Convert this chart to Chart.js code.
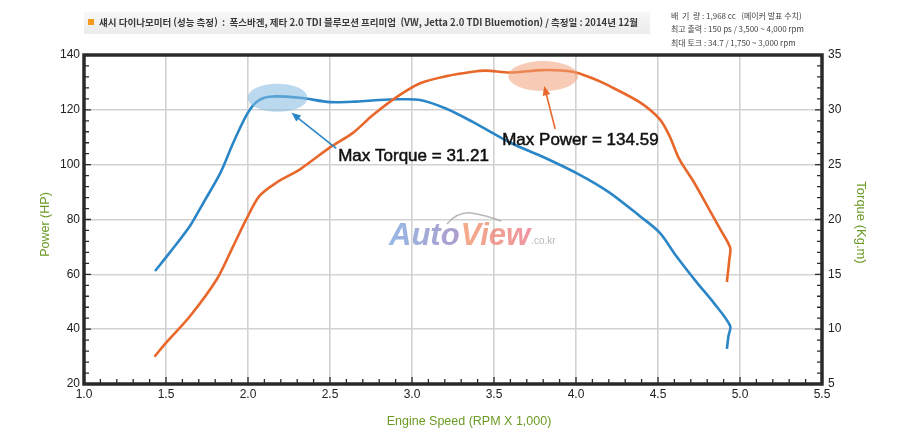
<!DOCTYPE html>
<html lang="ko">
<head>
<meta charset="UTF-8">
<title>Jetta 2.0 TDI Bluemotion - Dyno</title>
<script src="https://cdn.jsdelivr.net/npm/chart.js"></script>
<style>
    html, body { margin: 0; padding: 0; background: #fff; }
    #wrap { width: 900px; height: 436px; position: relative; }
</style>
</head>
<body>
<div id="wrap"><canvas id="dyno" width="900" height="436"></canvas></div>
<script>
// 출력 곡선 (Power, HP) - 왼쪽 축
const powerRpm = [1.43, 1.5, 1.646, 1.81, 1.91, 1.99, 2.07, 2.175, 2.317, 2.5, 2.64, 2.76, 2.91, 3.05, 3.21, 3.37, 3.45, 3.6, 3.8, 3.98, 4.1, 4.2, 4.39, 4.51, 4.57, 4.63, 4.72, 4.8, 4.88, 4.94, 4.935, 4.92];
const powerHp  = [30, 35, 44.7, 58.2, 70.3, 80.1, 88.6, 93.5, 98.3, 106.3, 111.6, 118, 124.8, 129.7, 132.3, 133.9, 134.3, 133.6, 134.5, 133.9, 131.5, 128.8, 122.7, 116.6, 110.5, 102, 93.5, 85, 76.4, 69.7, 65.5, 57.2];

// 토크 곡선 (Torque, Kg.m) - 오른쪽 축
const torqueRpm = [1.433, 1.524, 1.646, 1.727, 1.83, 1.91, 1.99, 2.05, 2.13, 2.317, 2.5, 2.66, 2.8, 2.91, 3.05, 3.21, 3.37, 3.6, 3.8, 4.02, 4.2, 4.39, 4.51, 4.61, 4.74, 4.84, 4.94, 4.93, 4.92];
const torqueKgm = [15.3, 17.0, 19.4, 21.5, 24.2, 27.0, 29.5, 30.7, 31.2, 31.1, 30.7, 30.75, 30.9, 30.96, 30.9, 30.1, 28.9, 27.0, 25.7, 24.1, 22.5, 20.3, 18.8, 16.7, 14.2, 12.4, 10.3, 9.4, 8.2];

// 축 범위
const rpmRange = [1.0, 5.5];
const hpRange = [20, 140];
const kgmRange = [5, 35];

// 텍스트
const titleText = '섀시 다이나모미터 (성능 측정)  :  폭스바겐, 제타 2.0 TDI 블루모션 프리미엄  (VW, Jetta 2.0 TDI Bluemotion) / 측정일 : 2014년 12월';
const specLines = ['배  기  량 : 1,968 cc   (메이커 발표 수치)', '최고 출력 : 150 ps / 3,500 ~ 4,000 rpm', '최대 토크 : 34.7 / 1,750 ~ 3,000 rpm'];

// 최대값 표시 (rpm, 값)
const maxTorque = { rpm: 2.18, value: 31.1, label: 'Max Torque = 31.21', textRpm: 2.55, textHp: 103 };
const maxPower = { rpm: 3.8, value: 132.3, label: 'Max Power = 134.59', textRpm: 3.55, textHp: 109 };

const BLUE = '#2a86c6';
const ORANGE = '#e8672a';
const GREEN = '#6c9a26';
const FONT = '"Liberation Sans", Arial, sans-serif';

function toPoints(xs, ys) {
    return xs.map((x, i) => ({ x: x, y: ys[i] }));
}

function arrow(ctx, x1, y1, x2, y2, color) {
    const a = Math.atan2(y2 - y1, x2 - x1);
    ctx.strokeStyle = color;
    ctx.fillStyle = color;
    ctx.lineWidth = 1.6;
    ctx.beginPath();
    ctx.moveTo(x1, y1);
    ctx.lineTo(x2 - 6 * Math.cos(a), y2 - 6 * Math.sin(a));
    ctx.stroke();
    ctx.beginPath();
    ctx.moveTo(x2, y2);
    ctx.lineTo(x2 - 10 * Math.cos(a - 0.4), y2 - 10 * Math.sin(a - 0.4));
    ctx.lineTo(x2 - 10 * Math.cos(a + 0.4), y2 - 10 * Math.sin(a + 0.4));
    ctx.closePath();
    ctx.fill();
}

const decorPlugin = {
    id: 'decor',
    beforeDraw(chart) {
        const ctx = chart.ctx;
        ctx.save();
        ctx.fillStyle = '#fff';
        ctx.fillRect(0, 0, chart.width, chart.height);

        // 제목 바
        const g = ctx.createLinearGradient(0, 12, 0, 34);
        g.addColorStop(0, '#f7f7f7');
        g.addColorStop(1, '#ececec');
        ctx.fillStyle = g;
        ctx.fillRect(84, 12, 566, 22);
        ctx.fillStyle = '#f39a1e';
        ctx.fillRect(88, 19, 6, 6);
        let size = 10;
        ctx.font = 'bold ' + size + 'px "Noto Sans CJK KR"';
        const w = ctx.measureText(titleText).width;
        size = size * 540 / w;
        ctx.font = 'bold ' + size.toFixed(2) + 'px "Noto Sans CJK KR"';
        ctx.fillStyle = '#3a3a3a';
        ctx.textBaseline = 'middle';
        ctx.fillText(titleText, 99, 22.5);

        // 제원
        ctx.font = '8px "Noto Sans CJK KR"';
        ctx.fillStyle = '#444';
        specLines.forEach((s, i) => ctx.fillText(s, 671, 15.5 + i * 13.5));
        ctx.restore();
    },
    beforeDatasetsDraw(chart) {
        // 워터마크
        const ctx = chart.ctx;
        const x = chart.scales.x, y = chart.scales.y;
        const cx = x.getPixelForValue(2.86), cy = y.getPixelForValue(74);
        ctx.save();
        ctx.globalAlpha = 0.7;
        ctx.strokeStyle = '#9a9a9a';
        ctx.lineWidth = 1.5;
        ctx.beginPath();
        ctx.moveTo(cx + 58, cy - 12);
        ctx.quadraticCurveTo(cx + 68, cy - 24, cx + 82, cy - 23);
        ctx.quadraticCurveTo(cx + 96, cy - 21, cx + 112, cy - 15);
        ctx.stroke();
        ctx.font = 'italic bold 31px "Liberation Sans"';
        ctx.textBaseline = 'alphabetic';
        const ga = ctx.createLinearGradient(cx, 0, cx + 72, 0);
        ga.addColorStop(0, '#6b9bd8');
        ga.addColorStop(1, '#8a72b8');
        ctx.fillStyle = ga;
        ctx.fillText('Auto', cx, cy + 9);
        const aw = ctx.measureText('Auto').width;
        const gv = ctx.createLinearGradient(cx + aw, 0, cx + aw + 80, 0);
        gv.addColorStop(0, '#ee8a55');
        gv.addColorStop(1, '#e8607a');
        ctx.fillStyle = gv;
        ctx.fillText('View', cx + aw + 1, cy + 9);
        const vw = ctx.measureText('View').width;
        ctx.font = '10px "Liberation Sans"';
        ctx.fillStyle = '#999';
        ctx.fillText('.co.kr', cx + aw + vw + 2, cy + 8);
        ctx.restore();
    },
    afterDraw(chart) {
        const ctx = chart.ctx;
        const a = chart.chartArea;
        const x = chart.scales.x, y = chart.scales.y, y1 = chart.scales.y1;
        ctx.save();

        // 최대값 영역
        const tx = x.getPixelForValue(maxTorque.rpm), ty = y1.getPixelForValue(maxTorque.value);
        ctx.fillStyle = 'rgba(130,185,225,0.55)';
        ctx.beginPath();
        ctx.ellipse(tx, ty, 30, 14, 0, 0, Math.PI * 2);
        ctx.fill();
        const px = x.getPixelForValue(maxPower.rpm), py = y.getPixelForValue(maxPower.value);
        ctx.fillStyle = 'rgba(240,160,120,0.55)';
        ctx.beginPath();
        ctx.ellipse(px, py, 35, 15, 0, 0, Math.PI * 2);
        ctx.fill();

        // 화살표 + 라벨
        const ltx = x.getPixelForValue(maxTorque.textRpm), lty = y.getPixelForValue(maxTorque.textHp);
        arrow(ctx, ltx - 2, lty - 8, tx + 14, ty + 15, BLUE);
        const lpx = x.getPixelForValue(maxPower.textRpm), lpy = y.getPixelForValue(maxPower.textHp);
        arrow(ctx, px + 12, lpy - 11, px + 1, py + 10, ORANGE);
        ctx.font = '17px ' + FONT;
        ctx.fillStyle = '#111';
        ctx.strokeStyle = '#111';
        ctx.lineWidth = 0.5;
        ctx.textBaseline = 'middle';
        ctx.fillText(maxTorque.label, ltx, lty);
        ctx.strokeText(maxTorque.label, ltx, lty);
        ctx.fillText(maxPower.label, lpx, lpy);
        ctx.strokeText(maxPower.label, lpx, lpy);

        // 안쪽 보조 눈금
        ctx.strokeStyle = '#2a2a2a';
        ctx.lineWidth = 1.3;
        ctx.beginPath();
        for (let v = rpmRange[0]; v <= rpmRange[1] + 1e-6; v += 0.1) {
            const p = x.getPixelForValue(v);
            const major = Math.abs(v * 2 - Math.round(v * 2)) < 1e-6;
            ctx.moveTo(p, a.bottom);
            ctx.lineTo(p, a.bottom - (major ? 7 : 5));
        }
        for (let v = hpRange[0]; v <= hpRange[1]; v += 4) {
            const p = y.getPixelForValue(v);
            ctx.moveTo(a.left, p);
            ctx.lineTo(a.left + (v % 20 === 0 ? 7 : 5), p);
        }
        for (let v = kgmRange[0]; v <= kgmRange[1]; v += 1) {
            const p = y1.getPixelForValue(v);
            ctx.moveTo(a.right, p);
            ctx.lineTo(a.right - (v % 5 === 0 ? 7 : 5), p);
        }
        ctx.stroke();

        // 테두리
        ctx.lineWidth = 3.5;
        ctx.strokeRect(a.left, a.top, a.right - a.left, a.bottom - a.top);

        // 축 제목
        ctx.fillStyle = GREEN;
        ctx.font = '12.5px ' + FONT;
        ctx.textAlign = 'center';
        ctx.textBaseline = 'middle';
        ctx.fillText('Engine Speed (RPM X 1,000)', (a.left + a.right) / 2 + 16, 422);
        ctx.save();
        ctx.translate(46, (a.top + a.bottom) / 2 + 5);
        ctx.rotate(-Math.PI / 2);
        ctx.fillText('Power (HP)', 0, 0);
        ctx.restore();
        ctx.save();
        ctx.translate(861, (a.top + a.bottom) / 2 + 3);
        ctx.rotate(Math.PI / 2);
        ctx.font = '13px ' + FONT;
        ctx.fillText('Torque (Kg.m)', 0, 0);
        ctx.restore();
        ctx.restore();
    }
};

const tickFont = { family: FONT, size: 12 };
const gridStyle = { color: '#d2d2d2', lineWidth: 1.6, drawTicks: false };

new Chart(document.getElementById('dyno'), {
    type: 'scatter',
    data: {
        datasets: [{
            label: 'Power (HP)',
            data: toPoints(powerRpm, powerHp),
            yAxisID: 'y',
            showLine: true,
            borderColor: ORANGE,
            borderWidth: 2.6,
            pointRadius: 0,
            tension: 0.3
        }, {
            label: 'Torque (Kg.m)',
            data: toPoints(torqueRpm, torqueKgm),
            yAxisID: 'y1',
            showLine: true,
            borderColor: BLUE,
            borderWidth: 2.6,
            pointRadius: 0,
            tension: 0.3
        }]
    },
    options: {
        responsive: false,
        animation: false,
        layout: { padding: { top: 55, left: 0, right: 0, bottom: 0 } },
        plugins: { legend: { display: false }, tooltip: { enabled: false } },
        scales: {
            x: {
                type: 'linear',
                min: rpmRange[0], max: rpmRange[1],
                ticks: { stepSize: 0.5, callback: v => v.toFixed(1), font: tickFont, color: '#222', padding: 3, maxRotation: 0 },
                grid: gridStyle,
                border: { display: false },
                afterFit: s => { s.height = 52; }
            },
            y: {
                position: 'left',
                min: hpRange[0], max: hpRange[1],
                ticks: { stepSize: 20, font: tickFont, color: '#222', padding: 4 },
                grid: gridStyle,
                border: { display: false },
                afterFit: s => { s.width = 84; }
            },
            y1: {
                position: 'right',
                min: kgmRange[0], max: kgmRange[1],
                ticks: { stepSize: 5, font: tickFont, color: '#222', padding: 6 },
                grid: { drawOnChartArea: false, drawTicks: false },
                border: { display: false },
                afterFit: s => { s.width = 78; }
            }
        }
    },
    plugins: [decorPlugin]
});
</script>
</body>
</html>
